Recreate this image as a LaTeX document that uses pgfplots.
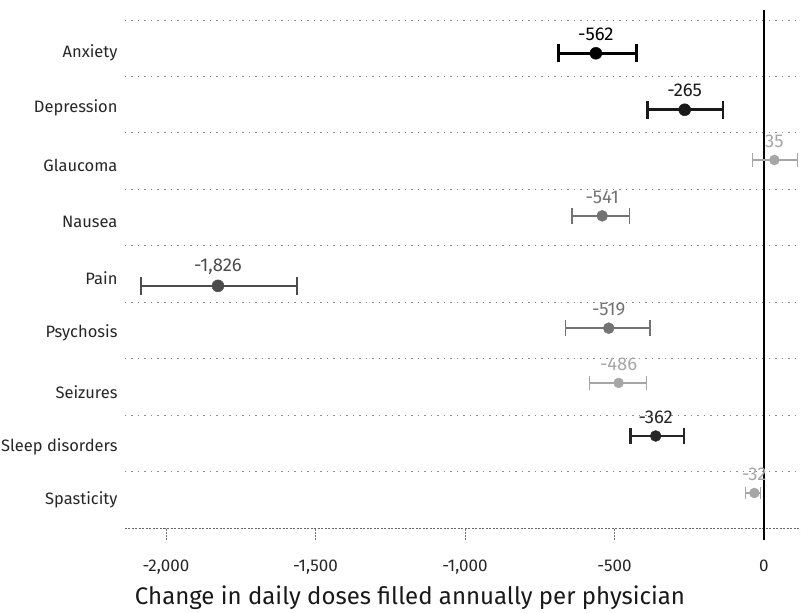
\documentclass[border=0pt]{standalone}
\usepackage{fontspec}
\setmainfont{Fira Sans}
\usepackage{pgfplots}
\pgfplotsset{compat=1.18}
\pgfplotsset{
  ser/.style n args={4}{% color, bar width, cap half-height, dot size
    only marks, mark=*, mark size=#4, color=#1,
    mark options={fill=#1, draw=#1},
    point meta=explicit symbolic,
    nodes near coords={\pgfplotspointmeta},
    nodes near coords style={anchor=center, yshift=19pt, text=#1, font=\fontsize{18.5}{20}\selectfont},
    error bars/.cd, x dir=both, x explicit,
    error bar style={line width=#2, color=#1},
    error mark options={rotate=90, line width=#2, mark size=#3, color=#1},
  },
}
\begin{document}
\begin{tikzpicture}[x=1pt,y=1pt]
\useasboundingbox (0,0) rectangle (801,613);
\begin{axis}[
  at={(125pt,85pt)}, anchor=south west,
  width=676pt, height=508pt, scale only axis,
  xmin=-2137, xmax=124, ymin=0.5, ymax=9.5,
  axis line style={draw=none},
  clip=false,
  xtick={-2000,-1500,-1000,-500,0},
  xticklabels={{-2,000},{-1,500},{-1,000},{-500},0},
  xtick pos=bottom,
  tick align=outside,
  major tick length=12pt,
  xtick style={black!55, dash pattern=on 1.5pt off 1.5pt, line width=0.8pt},
  xticklabel style={font=\fontsize{17}{19}\selectfont, yshift=-16pt, text=black!85},
  ytick={1.0,1.93,2.91,3.95,4.93,5.92,6.93,7.94,8.92},
  yticklabels={Spasticity,Sleep disorders,Seizures,Psychosis,Pain,Nausea,Glaucoma,Depression,Anxiety},
  ytick style={draw=none},
  yticklabel style={font=\fontsize{16.5}{18}\selectfont, text=black!85, xshift=8pt},
  extra y ticks={1.5,2.5,3.5,4.5,5.5,6.5,7.5,8.5,9.5},
  extra y tick labels={},
  extra y tick style={grid=major, major tick length=0pt, ytick style={draw=none}},
  major grid style={black!45, dash pattern=on 1.5pt off 5pt, line width=0.8pt},
]
\draw[black!60, dash pattern=on 2pt off 1.5pt, line width=0.9pt] (rel axis cs:0,0) -- (rel axis cs:1,0);
\draw[black, line width=1.6pt] (axis cs:0,9.68) -- (axis cs:0,0.29);

\addplot[ser={black}{2.5pt}{9pt}{6pt}] table[x=x,y=y,x error plus=ep,x error minus=em,meta=lab] {
x y ep em lab
-562 8.91 135 125 -562
};
\addplot[ser={black!90}{2.5pt}{9pt}{6pt}] table[x=x,y=y,x error plus=ep,x error minus=em,meta=lab] {
x y ep em lab
-265 7.91 128 125 -265
};
\addplot[ser={black!35}{1.3pt}{7pt}{5pt}] table[x=x,y=y,x error plus=ep,x error minus=em,meta=lab] {
x y ep em lab
35 7.02 77 74 35
};
\addplot[ser={black!55}{1.6pt}{8pt}{5.5pt}] table[x=x,y=y,x error plus=ep,x error minus=em,meta=lab] {
x y ep em lab
-541 6.03 91 101 -541
};
\addplot[ser={black!70}{2pt}{9pt}{6pt}] table[x=x,y=y,x error plus=ep,x error minus=em,meta=lab] {
x y ep em lab
-1826 4.79 263 256 -1,826
};
\addplot[ser={black!55}{1.6pt}{8pt}{5.5pt}] table[x=x,y=y,x error plus=ep,x error minus=em,meta=lab] {
x y ep em lab
-519 4.04 138 145 -519
};
\addplot[ser={black!35}{1.3pt}{7pt}{5pt}] table[x=x,y=y,x error plus=ep,x error minus=em,meta=lab] {
x y ep em lab
-486 3.07 94 98 -486
};
\addplot[ser={black!85}{2.3pt}{8pt}{5.5pt}] table[x=x,y=y,x error plus=ep,x error minus=em,meta=lab] {
x y ep em lab
-362 2.13 94 84 -362
};
\addplot[ser={black!35}{1.3pt}{6pt}{5pt}] table[x=x,y=y,x error plus=ep,x error minus=em,meta=lab] {
x y ep em lab
-32 1.12 20 30 -32
};
\end{axis}
\node[font=\fontsize{24}{28}\selectfont, text=black!90] at (410,15) {Change in daily doses filled annually per physician};
\end{tikzpicture}
\end{document}
